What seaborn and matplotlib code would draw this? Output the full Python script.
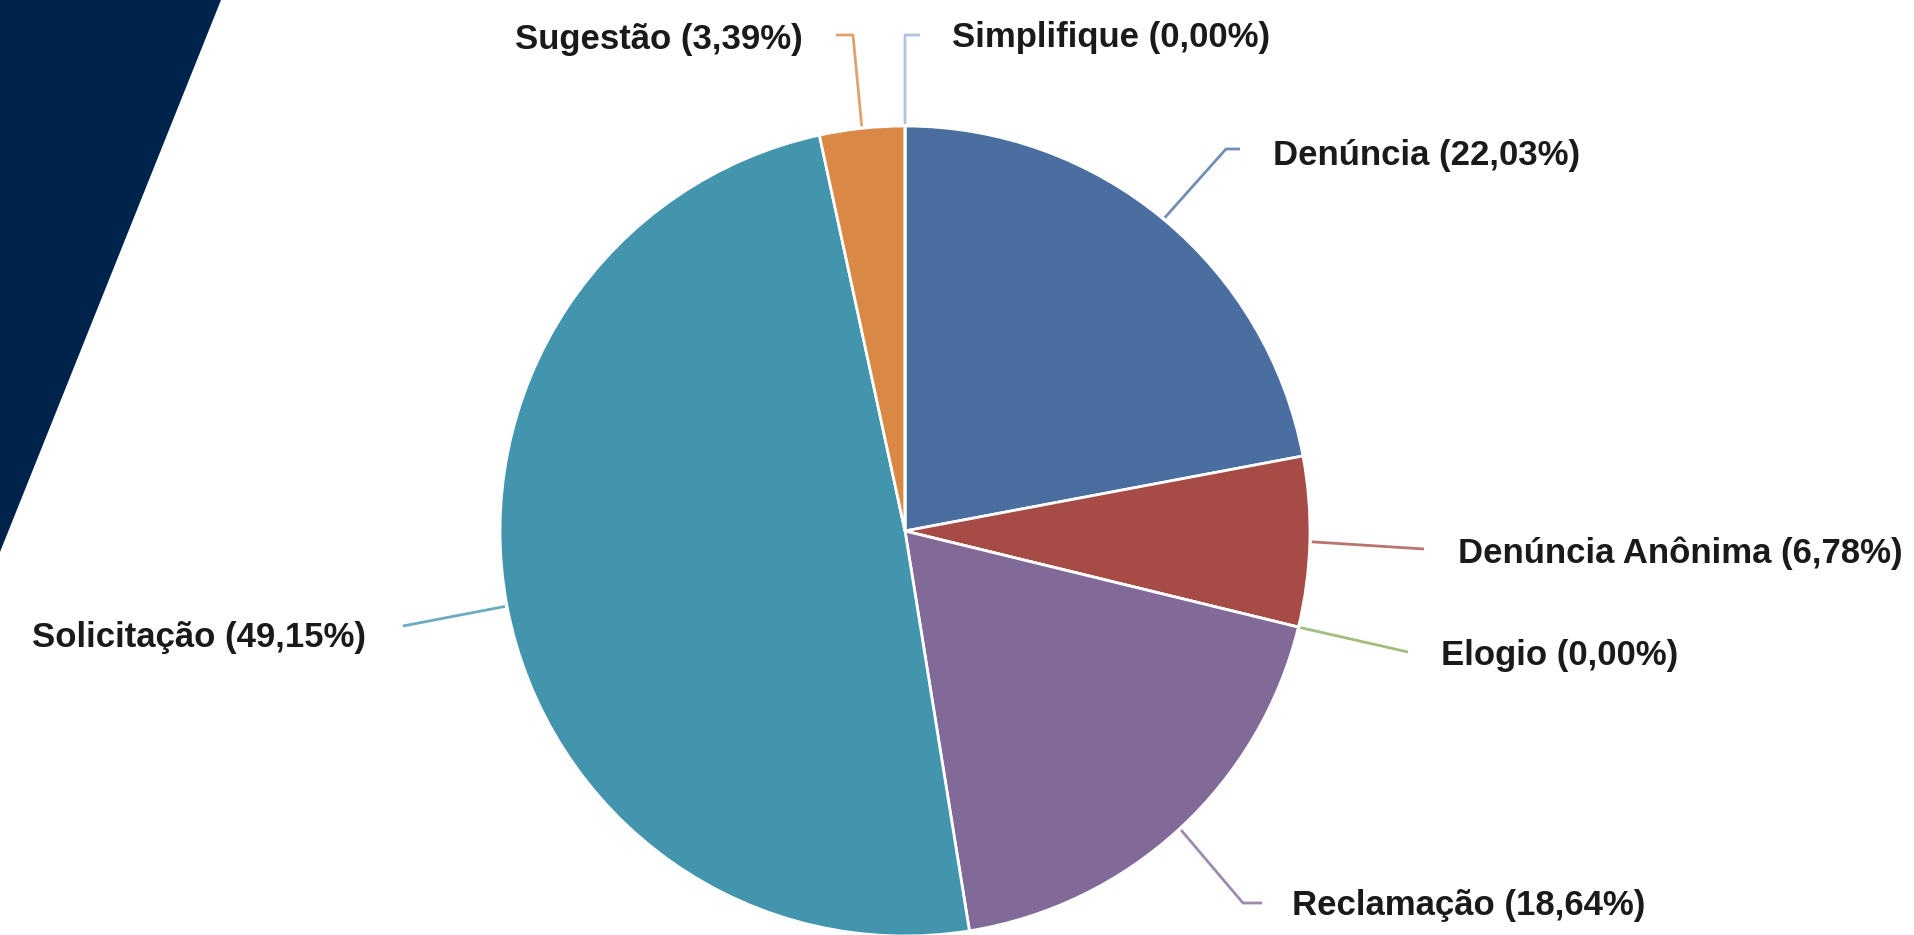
import numpy as np
import matplotlib
matplotlib.use("Agg")
import matplotlib.pyplot as plt
from matplotlib.patches import Polygon
import seaborn as sns

# --- Data ---
CATEGORIES = [
    "Denúncia",
    "Denúncia Anônima",
    "Elogio",
    "Reclamação",
    "Solicitação",
    "Sugestão",
    "Simplifique",
]
COUNTS = [13, 4, 0, 11, 29, 2, 0]
COLORS = ["#4A6EA0", "#A64B46", "#8CAA5A", "#826A98", "#4394AD", "#D98845", "#9FB4D6"]

# --- Layout (pixel coords, origin top-left) ---
W, H = 1914, 935
CENTER = (905, 531)
RADIUS = 405
# leader path after the anchor point on the wedge edge, then label position
LEADERS = {
    "Denúncia": ([(1226, 149), (1240, 149)], (1273, 155, "left")),
    "Denúncia Anônima": ([(1424, 549)], (1458, 553, "left")),
    "Elogio": ([(1408, 652)], (1441, 656, "left")),
    "Reclamação": ([(1243, 903), (1262, 903)], (1292, 905, "left")),
    "Solicitação": ([(403, 626)], (366, 638, "right")),
    "Sugestão": ([(853, 35), (836, 35)], (803, 40, "right")),
    "Simplifique": ([(905, 35), (920, 35)], (952, 38, "left")),
}


def fy(y):
    return H - y


def main():
    sns.set_theme(style="white")
    plt.rcParams["font.family"] = ["Liberation Sans", "DejaVu Sans"]

    fig = plt.figure(figsize=(W / 100, H / 100), dpi=100)
    ax = fig.add_axes([0, 0, 1, 1])

    # navy band in the top-left corner
    ax.add_patch(Polygon([(0, fy(0)), (221, fy(0)), (0, fy(552))],
                         closed=True, color="#00234B", lw=0))

    palette = sns.color_palette(COLORS)
    total = sum(COUNTS)
    wedges, _ = ax.pie(
        COUNTS,
        colors=palette,
        startangle=90,
        counterclock=False,
        center=(CENTER[0], fy(CENTER[1])),
        radius=RADIUS,
        wedgeprops=dict(edgecolor="white", linewidth=2),
        frame=True,
    )
    ax.set_xlim(0, W)
    ax.set_ylim(0, H)
    ax.set_aspect("equal")
    ax.axis("off")

    for wedge, name, count, color in zip(wedges, CATEGORIES, COUNTS, palette):
        mid = np.deg2rad((wedge.theta1 + wedge.theta2) / 2)
        ax0 = CENTER[0] + (RADIUS + 2) * np.cos(mid)
        ay0 = fy(CENTER[1]) + (RADIUS + 2) * np.sin(mid)
        path, (tx, ty, ha) = LEADERS[name]
        xs = [ax0] + [p[0] for p in path]
        ys = [ay0] + [fy(p[1]) for p in path]
        light = sns.light_palette(color, n_colors=5)[3]
        ax.plot(xs, ys, color=light, lw=2, solid_capstyle="butt", zorder=3)

        pct = f"{100 * count / total:.2f}".replace(".", ",")
        ax.text(tx, fy(ty), f"{name} ({pct}%)", ha=ha, va="center",
                fontsize=25, fontweight="bold", color="#1A1A1A")

    fig.savefig("out.png", dpi=100, facecolor="white")
    plt.close(fig)


if __name__ == "__main__":
    main()
